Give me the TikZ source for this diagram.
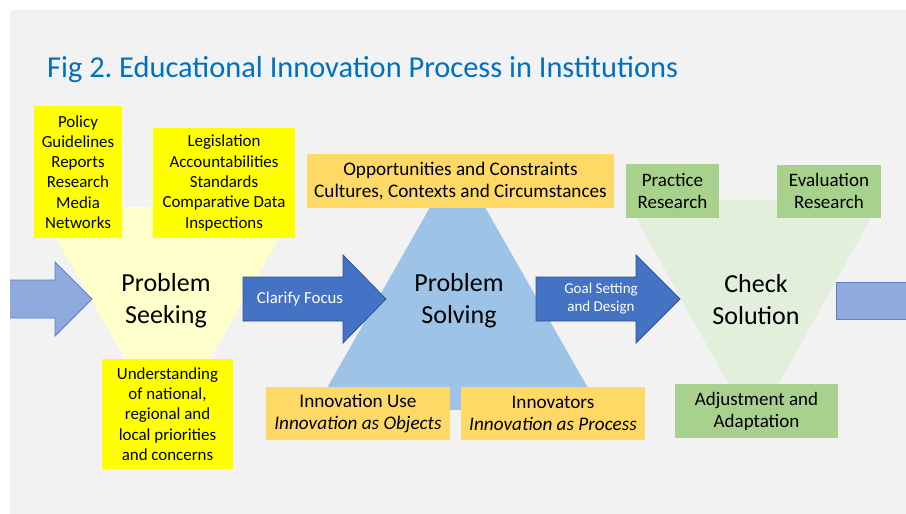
\documentclass[tikz,border=0pt]{standalone}
\usepackage{fontspec}
\setmainfont{Carlito}
\frenchspacing
\definecolor{bggray}{HTML}{F2F2F2}
\definecolor{titleblue}{HTML}{0070C0}
\definecolor{paleyellow}{HTML}{FFFFCC}
\definecolor{brightyellow}{HTML}{FFFF00}
\definecolor{paleblue}{HTML}{9DC3E6}
\definecolor{orangebox}{HTML}{FFD966}
\definecolor{palegreen}{HTML}{E2EFDA}
\definecolor{greenbox}{HTML}{A9D18E}
\definecolor{lightarrow}{HTML}{8FAADC}
\definecolor{lightarrowline}{HTML}{5B80C8}
\definecolor{darkarrow}{HTML}{4472C4}
\definecolor{darkarrowline}{HTML}{2F528F}
\begin{document}
\begin{tikzpicture}[x=1pt,y=-1pt,
  ybox/.style={fill=brightyellow, inner sep=0pt, align=center,
    font=\fontsize{16.9}{20.3}\selectfont},
  obox/.style={fill=orangebox, inner sep=0pt, align=center,
    font=\fontsize{19.2}{22}\selectfont},
  gbox/.style={fill=greenbox, inner sep=0pt, align=center,
    font=\fontsize{19}{22}\selectfont},
  stagelabel/.style={align=center, inner sep=0pt,
    font=\fontsize{26}{32}\selectfont},
  softarrow/.style={fill=lightarrow, draw=lightarrowline, line width=0.8pt},
  boldarrow/.style={fill=darkarrow, draw=darkarrowline, line width=0.8pt},
  arrowtext/.style={text=white, align=center, inner sep=0pt}]
\useasboundingbox (0,0) rectangle (906,514);
\fill[white] (0,0) rectangle (906,514);
\fill[bggray] (10,10) rectangle (906,514);

% title
\node[anchor=base west, inner sep=0pt, text=titleblue,
  font=\fontsize{30.4}{36}\selectfont] (title) at (47,77)
  {Fig 2. Educational Innovation Process in Institutions};

\begin{scope}
\clip (10,10) rectangle (906,514);

% the three stage triangles
\fill[paleyellow] (38.5,207) -- (296.5,207) -- (167.5,434) -- cycle;
\fill[paleblue] (457.5,159) -- (600.5,410) -- (314.5,410) -- cycle;
\fill[palegreen] (626.2,200) -- (880.8,200) -- (753.5,429) -- cycle;

% incoming and outgoing block arrows
\draw[softarrow] (0,280) -- (55,280) -- (55,262) -- (92,299) -- (55,336)
  -- (55,318) -- (0,318);
\draw[softarrow] (930,282) -- (836,282) -- (836,319) -- (930,319);

% transition arrows
\draw[boldarrow] (243,277) -- (343,277) -- (343,255) -- (386,299)
  -- (343,343) -- (343,321) -- (243,321) -- cycle;
\draw[boldarrow] (536,277) -- (636,277) -- (636,255) -- (680,299)
  -- (636,343) -- (636,321) -- (536,321) -- cycle;
\end{scope}

\node[arrowtext, font=\fontsize{16.8}{19}\selectfont] (clarify) at (300,299)
  {Clarify Focus};
\node[arrowtext, font=\fontsize{15}{18}\selectfont] (goal) at (601,299)
  {Goal Setting\\and Design};

% stage names
\node[stagelabel] (seek) at (166,300.5) {Problem\\Seeking};
\node[stagelabel] (solve) at (459,300.5) {Problem\\Solving};
\node[stagelabel] (check) at (756,299.5) {Check\\Solution};

% problem seeking inputs
\node[ybox, minimum width=88, minimum height=132] (sources) at (78,172)
  {Policy\\Guidelines\\Reports\\Research\\Media\\Networks};
\node[ybox, minimum width=142, minimum height=110] (controls) at (224,183)
  {Legislation\\Accountabilities\\Standards\\Comparative Data\\Inspections};
\node[ybox, minimum width=131, minimum height=110] (priorities) at (167.5,414)
  {Understanding\\of national,\\regional and\\local priorities\\and concerns};

% problem solving factors
\node[obox, minimum width=307, minimum height=54] (context) at (460.5,181)
  {Opportunities and Constraints\\Cultures, Contexts and Circumstances};
\node[obox, minimum width=184, minimum height=53] (use) at (358,413.5)
  {Innovation Use\\\textit{Innovation as Objects}};
\node[obox, minimum width=184, minimum height=53] (innovators) at (553,413.5)
  {Innovators\\\textit{Innovation as Process}};

% solution checking
\node[gbox, minimum width=93, minimum height=54] (practice) at (672.5,191)
  {Practice\\Research};
\node[gbox, minimum width=104, minimum height=53] (evaluation) at (829,191)
  {Evaluation\\Research};
\node[gbox, minimum width=163, minimum height=54] (adjust) at (756.5,411)
  {Adjustment and\\Adaptation};
\end{tikzpicture}
\end{document}
